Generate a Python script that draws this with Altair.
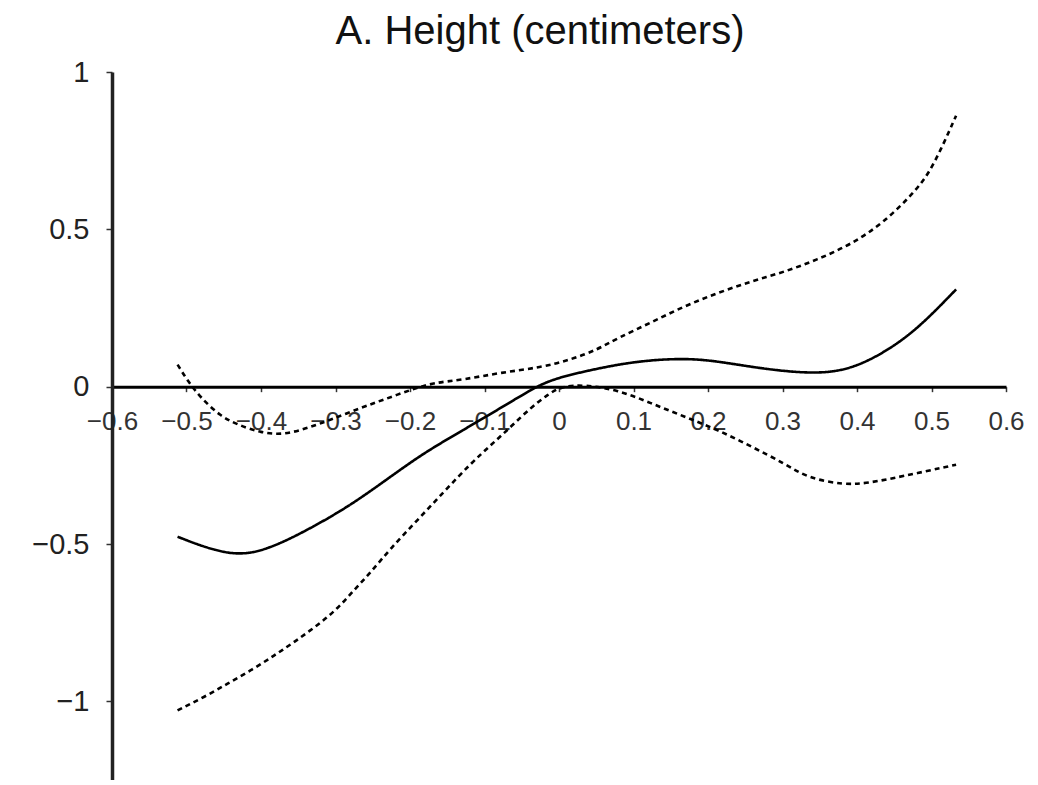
import altair as alt
import pandas as pd

# Point estimate (solid)
est_x = [-0.512, -0.440, -0.391, -0.333, -0.279, -0.226, -0.181, -0.128, -0.082, -0.038,
         -0.011, 0.034, 0.101, 0.168, 0.213, 0.280, 0.347, 0.392, 0.436, 0.481, 0.533]
est_y = [-0.477, -0.542, -0.519, -0.450, -0.376, -0.286, -0.210, -0.137, -0.073, -0.010,
         0.022, 0.049, 0.081, 0.091, 0.081, 0.054, 0.040, 0.056, 0.107, 0.182, 0.309]

# Upper confidence band (dashed)
upper_x = [-0.512, -0.498, -0.481, -0.454, -0.431, -0.400, -0.369, -0.337, -0.306, -0.266,
           -0.235, -0.199, -0.168, -0.128, -0.078, -0.024, 0.016, 0.052, 0.079, 0.123,
           0.168, 0.213, 0.258, 0.302, 0.347, 0.392, 0.436, 0.481, 0.503, 0.533]
upper_y = [0.070, 0.017, -0.035, -0.095, -0.121, -0.147, -0.153, -0.131, -0.105, -0.067,
           -0.041, -0.010, 0.013, 0.022, 0.045, 0.061, 0.086, 0.118, 0.155, 0.203,
           0.256, 0.298, 0.335, 0.364, 0.404, 0.452, 0.521, 0.627, 0.702, 0.861]

# Lower confidence band (dashed)
lower_x = [-0.512, -0.476, -0.445, -0.413, -0.382, -0.355, -0.324, -0.297, -0.275, -0.252,
           -0.226, -0.190, -0.154, -0.118, -0.091, -0.064, -0.038, -0.015, 0.003, 0.034,
           0.079, 0.123, 0.168, 0.213, 0.258, 0.302, 0.334, 0.383, 0.414, 0.459, 0.533]
lower_y = [-1.029, -0.986, -0.944, -0.901, -0.854, -0.811, -0.758, -0.705, -0.646, -0.588,
           -0.514, -0.424, -0.333, -0.243, -0.185, -0.126, -0.067, -0.025, 0.001, 0.006,
           -0.010, -0.052, -0.095, -0.137, -0.190, -0.243, -0.291, -0.312, -0.307, -0.286, -0.248]

x_ticks = [-0.6, -0.5, -0.4, -0.3, -0.2, -0.1, 0, 0.1, 0.2, 0.3, 0.4, 0.5, 0.6]
y_ticks = [-1, -0.5, 0, 0.5, 1]

rows = []
for name, xs, ys in [("estimate", est_x, est_y), ("upper", upper_x, upper_y), ("lower", lower_x, lower_y)]:
    for a, b in zip(xs, ys):
        rows.append({"series": name, "x": a, "y": b})
df = pd.DataFrame(rows)

W, H = 894, 708
YMIN, YMAX = -1.25, 1.0
zero_offset = -H * (0 - YMIN) / (YMAX - YMIN)

FONT = "Liberation Sans"

chart = alt.Chart(df).mark_line(interpolate="basis", color="black", strokeWidth=2.6).encode(
    x=alt.X("x:Q",
            scale=alt.Scale(domain=[-0.6, 0.6], nice=False, zero=False),
            axis=alt.Axis(values=x_ticks, format=".1~f", title=None, grid=False,
                          offset=zero_offset, domainColor="black", domainWidth=3,
                          tickColor="#333", tickSize=5, tickWidth=1.5,
                          labelFont=FONT, labelFontSize=26, labelColor="#333",
                          labelPadding=17, labelFlush=False, labelOverlap=False)),
    y=alt.Y("y:Q",
            scale=alt.Scale(domain=[YMIN, YMAX], nice=False, zero=False),
            axis=alt.Axis(values=y_ticks, format="~g", title=None, grid=False,
                          domainColor="#222", domainWidth=3.5,
                          tickColor="#333", tickSize=6, tickWidth=1.5,
                          labelFont=FONT, labelFontSize=29, labelColor="#222",
                          labelPadding=17, labelFlush=False, labelOverlap=False)),
    strokeDash=alt.StrokeDash("series:N",
                              scale=alt.Scale(domain=["estimate", "upper", "lower"],
                                              range=[[1, 0], [5, 4], [5, 4]]),
                              legend=None),
    detail="series:N",
).properties(
    width=W,
    height=H,
    autosize=alt.AutoSizeParams(type="pad"),
    padding={"left": 23, "top": 4, "right": 0, "bottom": 0},
    title=alt.TitleParams("A. Height (centimeters)", font=FONT, fontSize=40,
                          fontWeight="normal", color="#111", anchor="middle",
                          dx=-19, offset=6),
).configure_view(strokeWidth=0)

chart.save("out.html", embed_options={"renderer": "svg", "actions": False})
